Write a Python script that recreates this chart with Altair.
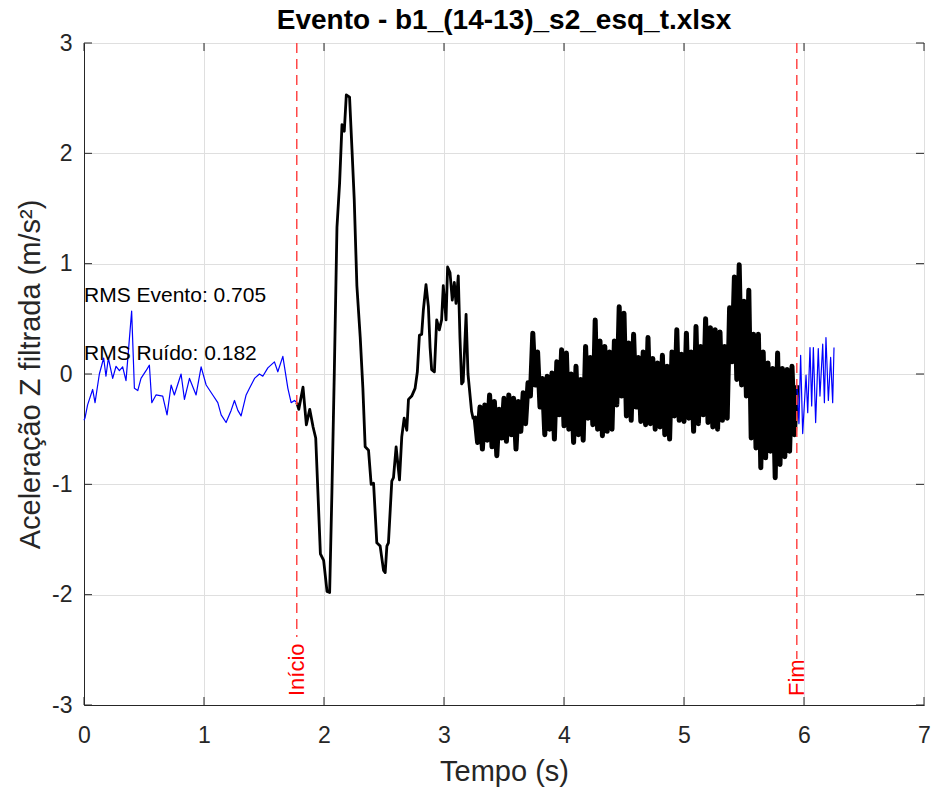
import altair as alt
import pandas as pd

# ---------------- data ----------------
pre_t = [0.0, 0.008, 0.03, 0.072, 0.092, 0.128, 0.164, 0.183, 0.203, 0.239, 0.267, 0.295,
         0.322, 0.350, 0.397, 0.42, 0.448, 0.475, 0.517, 0.545, 0.565, 0.60, 0.656, 0.692,
         0.726, 0.753, 0.809, 0.837, 0.879, 0.934, 0.976, 1.018, 1.073, 1.115, 1.143, 1.184,
         1.226, 1.254, 1.282, 1.309, 1.351, 1.379, 1.421, 1.462, 1.49, 1.532, 1.587, 1.615,
         1.657, 1.699, 1.726, 1.754, 1.773]
pre_v = [-0.42, -0.40, -0.28, -0.14, -0.26, 0.0, 0.145, -0.02, 0.145, -0.04, 0.07, 0.03,
         0.065, -0.06, 0.57, -0.13, -0.15, -0.04, 0.03, 0.08, -0.26, -0.19, -0.20, -0.37,
         -0.10, -0.19, 0.0, -0.23, -0.04, -0.19, 0.065, -0.10, -0.19, -0.26, -0.37, -0.44,
         -0.33, -0.24, -0.33, -0.38, -0.19, -0.13, -0.04, 0.0, -0.02, 0.055, 0.11, 0.02,
         0.16, -0.13, -0.26, -0.24, -0.26]

event_t = [1.773, 1.79, 1.825, 1.853, 1.881, 1.909, 1.931, 1.97, 1.997, 2.025, 2.047, 2.066,
           2.086, 2.108, 2.13, 2.15, 2.169, 2.186, 2.213, 2.233, 2.252, 2.274, 2.302, 2.324,
           2.343, 2.371, 2.393, 2.413, 2.44, 2.468, 2.496, 2.51, 2.524, 2.537, 2.565, 2.579,
           2.601, 2.629, 2.648, 2.668, 2.69, 2.704, 2.731, 2.759, 2.778, 2.795, 2.814, 2.828,
           2.85, 2.87, 2.884, 2.897, 2.92, 2.939, 2.961, 2.98, 2.994, 3.017, 3.03, 3.05,
           3.069, 3.086, 3.1, 3.119, 3.133, 3.147, 3.16, 3.184, 3.20, 3.23, 3.244]
event_v = [-0.26, -0.32, -0.12, -0.46, -0.32, -0.48, -0.58, -1.63, -1.69, -1.97, -1.98, -1.07,
           0.02, 1.33, 1.73, 2.26, 2.2, 2.53, 2.51, 2.04, 1.58, 0.8, 0.33, -0.13,
           -0.66, -0.69, -1.0, -0.99, -1.53, -1.56, -1.78, -1.8, -1.56, -1.53, -0.97, -0.94,
           -0.66, -0.96, -0.57, -0.4, -0.51, -0.23, -0.2, -0.13, 0.02, 0.35, 0.36, 0.58,
           0.81, 0.61, 0.24, 0.04, 0.02, 0.49, 0.4, 0.49, 0.8, 0.49, 0.97, 0.92,
           0.67, 0.83, 0.64, 0.89, 0.33, -0.09, -0.07, 0.54, 0.0, -0.34, -0.41]

# dense, fast-oscillating part of the event, sampled every 0.02 s from 3.26 s
# (values alternate between the upper and the lower edge of the black band)
dense_start = 3.26
dense_step = 0.02
dense_v = [-0.40, -0.62, -0.30, -0.68, -0.28, -0.60, -0.19, -0.66, -0.25, -0.74,
           -0.32, -0.58, -0.22, -0.61, -0.19, -0.55, -0.22, -0.68, -0.25, -0.52,
           -0.17, -0.45, -0.08, -0.20, 0.37, -0.10, 0.20, -0.30, -0.04, -0.55,
           -0.02, -0.50, 0.01, -0.59, 0.11, -0.37, 0.22, -0.47, 0.19, -0.50,
           0.0, -0.62, 0.07, -0.55, -0.05, -0.60,
           0.25, -0.40, 0.15, -0.46, 0.49, -0.50, 0.30, -0.56, 0.25, -0.52,
           0.20, -0.50, 0.30, -0.28,
           0.61, -0.20, 0.55, -0.38, 0.28, -0.42, 0.36, -0.30, 0.15, -0.43,
           0.20, -0.46, 0.33, -0.45, 0.14, -0.50, 0.10, -0.48, 0.17, -0.55,
           0.07, -0.59, 0.20, -0.38, 0.40, -0.42, 0.18, -0.43, 0.37, -0.40,
           0.20, -0.52, 0.43, -0.45, 0.25, -0.37, 0.50, -0.44, 0.42, -0.48,
           0.40, -0.50, 0.38, -0.42, 0.25, -0.40,
           0.60, 0.11, 0.88, -0.05, 0.99, -0.10, 0.66, -0.20, 0.76, -0.58,
           0.36, -0.67, 0.36, -0.85, 0.20, -0.76, 0.10, -0.70, 0.05, -0.94,
           0.19, -0.82, 0.05, -0.75, 0.04, -0.70, 0.07, -0.55]
end_t = [5.94]
end_v = [-0.10]

post_t = [5.94, 5.958, 5.972, 5.989, 6.017, 6.031, 6.05, 6.064, 6.078, 6.097, 6.119,
          6.133, 6.156, 6.17, 6.183, 6.203, 6.222, 6.239, 6.25]
post_v = [-0.10, -0.45, 0.17, -0.54, -0.01, -0.35, 0.24, -0.29, 0.24, -0.44, 0.23,
          -0.20, 0.27, -0.26, 0.33, -0.24, 0.15, -0.26, 0.24]

x_ticks = [0, 1, 2, 3, 4, 5, 6, 7]
y_ticks = [-3, -2, -1, 0, 1, 2, 3]

marker_name = ["Início", "Fim"]
marker_t = [1.773, 5.94]

rms_label = ["RMS Evento: 0.705", "RMS Ruído: 0.182"]
rms_value = [0.705, 0.182]

title_text = "Evento - b1_(14-13)_s2_esq_t.xlsx"

# ---------------- styling ----------------
W, H = 840, 662
FONT = "Liberation Sans"
AX = "#262626"
TICK_LEN = 8
marker_gap = {"Início": 594, "Fim": 616}   # pixel where dashed line stops above its label

dense_t = [round(dense_start + dense_step * i, 3) for i in range(len(dense_v))]

pre_df = pd.DataFrame({"t": pre_t, "v": pre_v})
post_df = pd.DataFrame({"t": post_t, "v": post_v})
ev_df = pd.DataFrame({"t": event_t, "v": event_v})
dense_df = pd.DataFrame({"t": event_t[-1:] + dense_t + end_t,
                         "v": event_v[-1:] + dense_v + end_v})
xt_df = pd.DataFrame({"t": x_ticks})
yt_df = pd.DataFrame({"v": y_ticks})
mk_df = pd.DataFrame({"t": marker_t, "name": marker_name})
rms_df = pd.DataFrame({"t": [0.0] * len(rms_label), "v": rms_value, "label": rms_label})

xs = alt.Scale(domain=[0, 7], nice=False, zero=False)
ys = alt.Scale(domain=[-3, 3], nice=False, zero=False)

X_AX = alt.Axis(values=x_ticks, labelExpr="'' + datum.value", title="Tempo (s)", grid=True,
                labelPadding=19, labelFlush=False, labelOverlap=False, titleX=W / 2, titleY=66,
                titleBaseline="middle", titleAlign="center")
Y_AX = alt.Axis(values=y_ticks, labelExpr="'' + datum.value", title="Aceleração Z filtrada (m/s²)",
                grid=True, labelPadding=12, labelFlush=False, labelOverlap=False, titleX=-54,
                titleY=H / 2, titleAngle=270, titleBaseline="middle", titleAlign="center")

X = lambda f="t": alt.X(f"{f}:Q", scale=xs, axis=X_AX)
Y = lambda f="v": alt.Y(f"{f}:Q", scale=ys, axis=Y_AX)

pre_line = alt.Chart(pre_df).mark_line(color="#0000ff", strokeWidth=1.2, strokeJoin="round").encode(x=X(), y=Y())
post_line = alt.Chart(post_df).mark_line(color="#0000ff", strokeWidth=1.2, strokeJoin="round").encode(x=X(), y=Y())
ev_line = alt.Chart(ev_df).mark_line(color="#000000", strokeWidth=2.8, strokeJoin="round").encode(x=X(), y=Y())
dense_line = alt.Chart(dense_df).mark_line(color="#000000", strokeWidth=5, strokeJoin="round").encode(x=X(), y=Y())

layers = [pre_line, ev_line, dense_line, post_line]

for name in marker_name:
    sub = mk_df[mk_df["name"] == name]
    rule = alt.Chart(sub).mark_rule(color="#ff4848", strokeWidth=1.5, strokeDash=[10, 6]).encode(
        x=X(), y=alt.value(0), y2=alt.value(marker_gap[name]))
    txt = alt.Chart(sub).mark_text(color="#ff0000", font=FONT, fontSize=22, angle=270,
                                   align="left", baseline="middle").encode(
        x=X(), y=alt.value(H - 9), text="name:N")
    layers += [rule, txt]

rms_txt = alt.Chart(rms_df).mark_text(color="#000000", font=FONT, fontSize=21, align="left",
                                      baseline="middle").encode(x=X(), y=Y(), text="label:N")
layers.append(rms_txt)

tick_style = dict(color=AX, strokeWidth=1)
layers += [
    alt.Chart(xt_df).mark_rule(**tick_style).encode(x=X(), y=alt.value(H), y2=alt.value(H - TICK_LEN)),
    alt.Chart(xt_df).mark_rule(**tick_style).encode(x=X(), y=alt.value(0), y2=alt.value(TICK_LEN)),
    alt.Chart(yt_df).mark_rule(**tick_style).encode(y=Y(), x=alt.value(0), x2=alt.value(TICK_LEN)),
    alt.Chart(yt_df).mark_rule(**tick_style).encode(y=Y(), x=alt.value(W), x2=alt.value(W - TICK_LEN)),
]

chart = alt.layer(*layers).properties(
    width=W, height=H,
    title=alt.TitleParams(title_text, font=FONT, fontSize=28, fontWeight="bold", color="#000000",
                          anchor="middle", offset=-3),
    autosize=alt.AutoSizeParams(type="none"),
    padding={"left": 84, "top": 43, "right": 9, "bottom": 87},
).configure_view(stroke=AX, strokeWidth=1).configure_axis(
    domainColor=AX, domainWidth=1, gridColor="#dfdfdf", gridWidth=1,
    labelFont=FONT, titleFont=FONT, labelColor=AX, titleColor=AX,
    labelFontSize=23, titleFontSize=29, titleFontWeight="normal",
    ticks=False, tickSize=0,
)

chart.save("out.html", embed_options={"renderer": "svg", "actions": False})
